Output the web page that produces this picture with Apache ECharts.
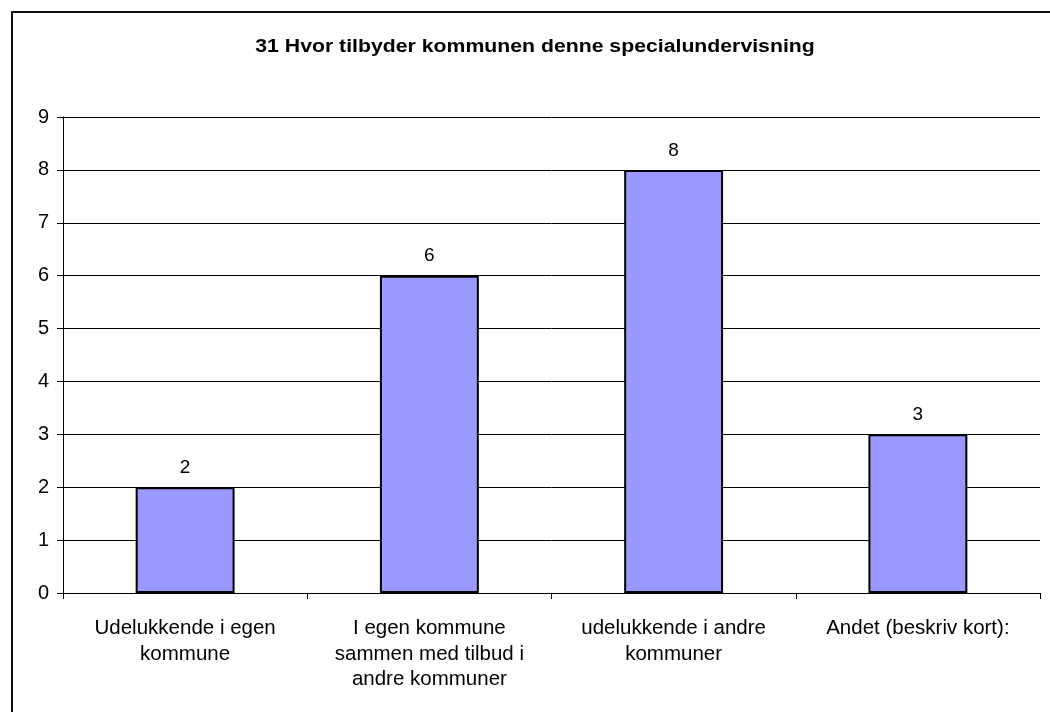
<!DOCTYPE html>
<html>
<head>
<meta charset="utf-8">
<script src="https://cdn.jsdelivr.net/npm/echarts@6/dist/echarts.min.js"></script>
<style>html,body{margin:0;padding:0;background:#fff;}#c{width:1050px;height:712px;}</style>
</head>
<body>
<div id="c"></div>
<script>
const title = '31 Hvor tilbyder kommunen denne specialundervisning';
const categories = ['Udelukkende i egen\nkommune', 'I egen kommune\nsammen med tilbud i\nandre kommuner', 'udelukkende i andre\nkommuner', 'Andet (beskriv kort):'];
const values = [2, 6, 8, 3];
const yTicks = [0, 1, 2, 3, 4, 5, 6, 7, 8, 9];

const chart = echarts.init(document.getElementById('c'), null, {renderer: 'canvas'});
const font = '"Liberation Sans", Arial, sans-serif';
chart.setOption({
  animation: false,
  backgroundColor: '#fff',
  graphic: [{
    type: 'rect', shape: {x: 12, y: 12, width: 1100, height: 800},
    style: {fill: 'none', stroke: '#111', lineWidth: 2}, z: 100, silent: true
  }, {
    type: 'text', x: 535, y: 47, scaleX: 1.18, silent: true,
    style: {text: title, fontFamily: font, fontSize: 18, fontWeight: 'bold', fill: '#000',
            textAlign: 'center', textVerticalAlign: 'middle'}
  }],
  grid: {left: 63, right: 10, top: 117, bottom: 119, containLabel: false},
  xAxis: {
    type: 'category', data: categories,
    axisLine: {lineStyle: {color: '#000', width: 1}},
    axisTick: {show: true, length: 6, lineStyle: {color: '#000'}, alignWithLabel: false},
    axisLabel: {fontFamily: font, fontSize: 20.5, color: '#000', margin: 23, lineHeight: 25.5, interval: 0}
  },
  yAxis: {
    type: 'value', min: yTicks[0], max: yTicks[yTicks.length - 1], interval: 1,
    axisLine: {show: true, lineStyle: {color: '#000', width: 1}},
    axisTick: {show: true, length: 6, lineStyle: {color: '#000'}},
    axisLabel: {fontFamily: font, fontSize: 20, color: '#000', margin: 14},
    splitLine: {lineStyle: {color: '#000', width: 1}}
  },
  series: [{
    type: 'bar', data: values, barWidth: '40.5%',
    itemStyle: {color: '#9999FF', borderColor: '#000', borderWidth: 2},
    label: {show: true, position: 'top', distance: 10, fontFamily: font, fontSize: 19, color: '#000'}
  }]
});
</script>
</body>
</html>
